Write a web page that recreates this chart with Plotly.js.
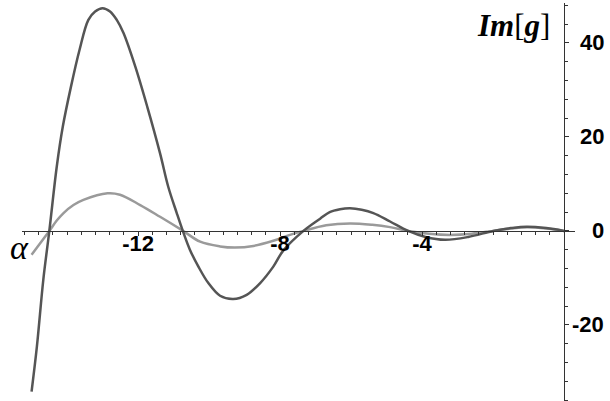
<!DOCTYPE html>
<html>
<head>
<meta charset="utf-8">
<script src="https://cdn.plot.ly/plotly-3.0.1.min.js"></script>
<style>
  html, body { margin: 0; padding: 0; background: #fff; }
  #plot { width: 610px; height: 401px; }
</style>
</head>
<body>
<div id="plot"></div>
<script>
// values
let alphaDark = [-15.0, -14.85, -14.67, -14.5, -14.29, -14.12, -13.89, -13.65, -13.40, -13.21, -13.0,
                 -12.79, -12.60, -12.41, -12.08, -11.74, -11.38, -11.15, -10.91, -10.74, -10.54, -10.30,
                 -10.02, -9.69, -9.32, -8.94, -8.56, -8.19, -7.91, -7.34, -6.87, -6.6, -6.31, -6.03,
                 -5.7, -5.37, -4.9, -4.39, -3.9, -3.35, -2.7, -1.99, -1.5, -1.05, -0.5, 0];
let imDark = [-34.2, -24.6, -10.4, 0, 13.7, 22.2, 30.7, 38.5, 44.9, 46.7, 47.4,
              46.7, 44.9, 42.1, 35.0, 26.4, 16.5, 9.4, 3.8, 0, -4.0, -7.6,
              -11.1, -13.8, -14.5, -13.6, -11.1, -7.6, -4.2, 0, 2.6, 4.0, 4.6, 4.8,
              4.5, 3.8, 2.0, 0, -1.3, -1.9, -1.3, 0, 0.6, 0.9, 0.6, 0];

let alphaLight = [-15.0, -14.5, -14.29, -14.1, -13.82, -13.54, -12.86, -12.51, -11.94, -11.38, -10.73, -10.25,
                  -9.69, -9.27, -8.75, -8.19, -7.72, -7.34, -6.7, -6.03, -5.4, -4.9, -4.39, -3.8,
                  -3.21, -2.6, -2.0, -1.5, -1.0, -0.5, 0];
let imLight = [-5.1, 0, 2.2, 3.8, 5.5, 6.6, 8.0, 7.7, 5.5, 3.0, 0, -2.3,
               -3.3, -3.55, -3.2, -2.1, -0.85, 0, 1.2, 1.6, 1.3, 0.8, 0, -0.6,
               -0.85, -0.6, 0, 0.5, 0.75, 0.5, 0];

let xTickVals = [-12, -8, -4];
let xTickText = ['-12', '-8', '-4'];
let yTickVals = [-20, 0, 20, 40];
let yTickText = ['-20', '0', '20', '40'];

let xRange = [-15.27, 0.31];
let yRange = [-36.2, 48.5];

// axes cross at the origin
let xAxisPos = (0 - yRange[0]) / (yRange[1] - yRange[0]);
let yAxisPos = (0 - xRange[0]) / (xRange[1] - xRange[0]);

let tickFont = { family: 'Liberation Sans, Arial, sans-serif', size: 22, color: '#000', weight: 'bold' };

let traceLight = {
    x: alphaLight,
    y: imLight,
    mode: 'lines',
    line: { color: '#9a9a9a', width: 2.5, shape: 'spline', smoothing: 1, simplify: false },
    hoverinfo: 'skip'
};

let traceDark = {
    x: alphaDark,
    y: imDark,
    mode: 'lines',
    line: { color: '#555555', width: 2.5, shape: 'spline', smoothing: 1, simplify: false },
    hoverinfo: 'skip'
};

// y tick labels are right-aligned in the reference, so draw them as annotations
let yLabels = yTickVals.map((v, i) => ({
    xref: 'x', yref: 'y', x: 0, y: v,
    xanchor: 'right', yanchor: 'middle', xshift: 42,
    text: yTickText[i],
    showarrow: false,
    font: tickFont
}));

let layout = {
    width: 610,
    height: 401,
    margin: { l: 22, r: 35, t: 3, b: 0 },
    paper_bgcolor: '#fff',
    plot_bgcolor: '#fff',
    showlegend: false,
    xaxis: {
        range: xRange,
        anchor: 'free',
        position: xAxisPos,
        showgrid: false,
        zeroline: false,
        showline: true,
        linecolor: '#333',
        linewidth: 1.5,
        ticks: 'outside',
        ticklen: 4,
        tickwidth: 1,
        tickcolor: '#333',
        tickmode: 'array',
        tickvals: xTickVals,
        ticktext: xTickText,
        tickfont: tickFont,
        ticklabelstandoff: -12,
        minor: { dtick: 0.4, tick0: 0, ticks: 'outside', ticklen: 3, tickwidth: 1, tickcolor: '#333', showgrid: false }
    },
    yaxis: {
        range: yRange,
        side: 'right',
        anchor: 'free',
        position: yAxisPos,
        showgrid: false,
        zeroline: false,
        showline: true,
        linecolor: '#333',
        linewidth: 1.5,
        ticks: 'outside',
        ticklen: 4,
        tickwidth: 1,
        tickcolor: '#333',
        tickmode: 'array',
        tickvals: yTickVals,
        showticklabels: false,
        minor: { dtick: 4, tick0: 0, ticks: 'outside', ticklen: 3, tickwidth: 1, tickcolor: '#333', showgrid: false }
    },
    annotations: yLabels.concat([
        {
            xref: 'x', yref: 'paper', x: 0, y: 0.9447,
            xanchor: 'right', yanchor: 'middle', xshift: -12,
            text: '<b><i>Im</i></b>[<b><i>g</i></b>]',
            showarrow: false,
            font: { family: 'Liberation Serif, Times New Roman, serif', size: 31, color: '#000' }
        },
        {
            xref: 'paper', yref: 'y', x: 0, y: 0,
            xanchor: 'center', yanchor: 'middle', xshift: -3, yshift: -17,
            text: '<i>α</i>',
            showarrow: false,
            font: { family: 'Liberation Serif, Times New Roman, serif', size: 34, color: '#000' }
        }
    ])
};

Plotly.newPlot('plot', [traceLight, traceDark], layout, { displayModeBar: false, staticPlot: true });
</script>
</body>
</html>
